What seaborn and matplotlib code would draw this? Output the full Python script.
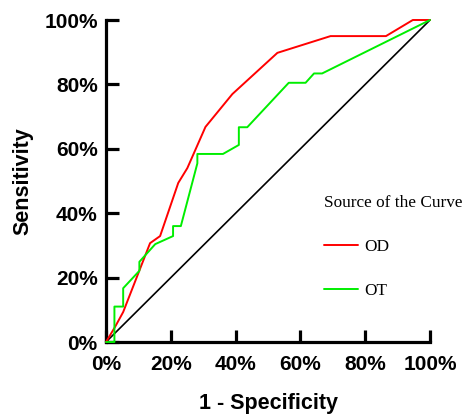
import matplotlib.pyplot as plt
import pandas as pd
import seaborn as sns

# ROC points (1 - specificity, sensitivity), in %
od_fpr = [0, 2.8, 5.3, 13.6, 16.7, 22.3, 25.1, 30.7, 39.0, 52.9, 69.3, 86.4, 94.7, 100]
od_tpr = [0, 4.7, 9.3, 30.7, 32.9, 49.4, 54.0, 66.8, 77.0, 89.8, 95.0, 95.0, 100, 100]

ot_fpr = [0, 2.6, 2.6, 5.3, 5.3, 10.3, 10.3, 15.2, 20.7, 20.7, 23.1, 28.2, 28.2,
          36.1, 41.0, 41.0, 43.6, 56.4, 61.6, 64.2, 66.7, 100]
ot_tpr = [0, 0, 11.0, 11.0, 16.7, 22.1, 24.9, 30.4, 32.9, 36.0, 36.0, 55.5, 58.4,
          58.4, 61.2, 66.7, 66.7, 80.5, 80.5, 83.4, 83.4, 100]

ref_line = [0, 100]
tick_vals = [0, 20, 40, 60, 80, 100]
tick_labels = ["0%", "20%", "40%", "60%", "80%", "100%"]

#%% long table for seaborn
roc_df = pd.concat([
    pd.DataFrame({'fpr': od_fpr, 'tpr': od_tpr, 'source': 'OD'}),
    pd.DataFrame({'fpr': ot_fpr, 'tpr': ot_tpr, 'source': 'OT'}),
], ignore_index=True)

sns.set_style("ticks", {'axes.edgecolor': 'black', 'xtick.color': 'black', 'ytick.color': 'black',
                        'text.color': 'black', 'axes.labelcolor': 'black'})
plt.rcParams['font.family'] = ['Liberation Sans', 'DejaVu Sans']

fig = plt.figure(figsize=[4.65, 4.15], dpi=100, facecolor='white')
ax = fig.add_axes([106/465, 1 - 342/415, 324/465, 322/415])

ax.plot(ref_line, ref_line, c='black', linewidth=1.2, clip_on=False, zorder=3)
sns.lineplot(data=roc_df, x='fpr', y='tpr', hue='source', sort=False, estimator=None,
             units='source', palette={'OD': '#ff0000', 'OT': '#00ee00'},
             linewidth=1.4, clip_on=False, zorder=4, ax=ax)

ax.set_xlim(0, 100)
ax.set_ylim(0, 100)
ax.set_xticks(tick_vals)
ax.set_xticklabels(tick_labels)
ax.set_yticks(tick_vals)
ax.set_yticklabels(tick_labels)
sns.despine(ax=ax)
for s in ['left', 'bottom']:
    ax.spines[s].set_linewidth(2.3)
ax.tick_params(direction='in', length=9, width=2.3, labelsize=15)
ax.tick_params(axis='x', pad=9)
ax.tick_params(axis='y', pad=6)
for lab in ax.get_xticklabels() + ax.get_yticklabels():
    lab.set_fontweight('bold')

ax.set_xlabel('1 - Specificity', fontsize=15.5, fontweight='bold', labelpad=14)
ax.set_ylabel('Sensitivity', fontsize=15.5, fontweight='bold', labelpad=8)

leg = ax.legend(title='Source of the Curve', frameon=False, loc='upper left',
                bbox_to_anchor=(0.672, 0.455), handlelength=2.0, handletextpad=0.35,
                labelspacing=1.6, borderpad=0, borderaxespad=0,
                prop={'family': 'Liberation Serif', 'size': 12.4},
                title_fontproperties={'family': 'Liberation Serif', 'size': 12.4})
leg._legend_box.align = 'left'

plt.savefig("out.png", dpi=100, facecolor='white')
